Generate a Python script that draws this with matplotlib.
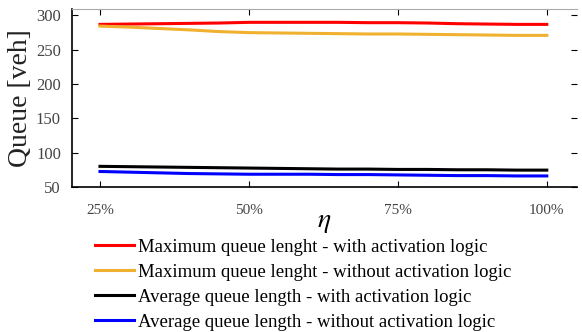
import matplotlib
matplotlib.use("Agg")
from matplotlib import pyplot as plt

plt.rcParams['font.family'] = ['Liberation Serif', 'DejaVu Serif']
plt.rcParams['mathtext.fontset'] = 'stix'

eta = [25, 30, 35, 40, 45, 50, 55, 60, 65, 70, 75, 80, 85, 90, 95, 100]
max_with = [287, 287.5, 288, 288.5, 289, 290, 290, 290, 290, 289.5, 289.5, 289, 288, 287.5, 287, 287]
max_without = [284.5, 283, 281, 279, 276.5, 275, 274.5, 274, 273.5, 273, 273, 272.5, 272, 271.5, 271, 271]
avg_with = [80, 79.5, 79, 78.5, 78, 77.5, 77, 76.5, 76, 76, 75.5, 75.5, 75, 75, 74.5, 74.5]
avg_without = [72.5, 71.5, 70.5, 69.5, 69, 68.5, 68.5, 68.5, 68, 68, 67.5, 67, 66.5, 66.5, 66, 66]

labels = ['Maximum queue lenght - with activation logic',
          'Maximum queue lenght - without activation logic',
          'Average queue length - with activation logic',
          'Average queue length - without activation logic']
colors = ['#ff0000', '#f0b030', '#000000', '#0000ff']
xticks = [25, 50, 75, 100]
xticklabels = ['25%', '50%', '75%', '100%']
yticks = [50, 100, 150, 200, 250, 300]

fig = plt.figure(figsize=(5.82, 3.32), dpi=100)
ax = fig.add_axes([0.1237, 0.437, 0.867, 0.536])

series = [max_with, max_without, avg_with, avg_without]
lines = []
for s, c, lab in zip(series, colors, labels):
    ln, = ax.plot(eta, s, color=c, lw=2.2, label=lab)
    lines.append(ln)

ax.set_xlim(20.3, 105)
ax.set_ylim(50, 309.5)
ax.set_xticks(xticks)
ax.set_xticklabels(xticklabels)
ax.set_yticks(yticks)
ax.tick_params(direction='in', top=True, right=True, length=4, width=0.8,
               labelcolor='#444444')
ax.tick_params(axis='y', labelsize=12, pad=8)
ax.tick_params(axis='x', labelsize=11, pad=12)
ax.spines['right'].set_visible(False)
ax.spines['top'].set_color('#aaaaaa')
ax.spines['left'].set_linewidth(1.2)
ax.spines['bottom'].set_linewidth(1.2)

ax.set_ylabel('Queue [veh]', fontsize=20, color='#222222', labelpad=2)
ax.set_xlabel(r'$\eta$', fontsize=20, labelpad=-5)

fig.legend(handles=lines, loc='upper left', bbox_to_anchor=(0.163, 0.281),
           frameon=False, fontsize=13.5, handlelength=2.1, handletextpad=0.2,
           labelspacing=0.42, borderpad=0, borderaxespad=0)

fig.savefig('out.png', dpi=100)
